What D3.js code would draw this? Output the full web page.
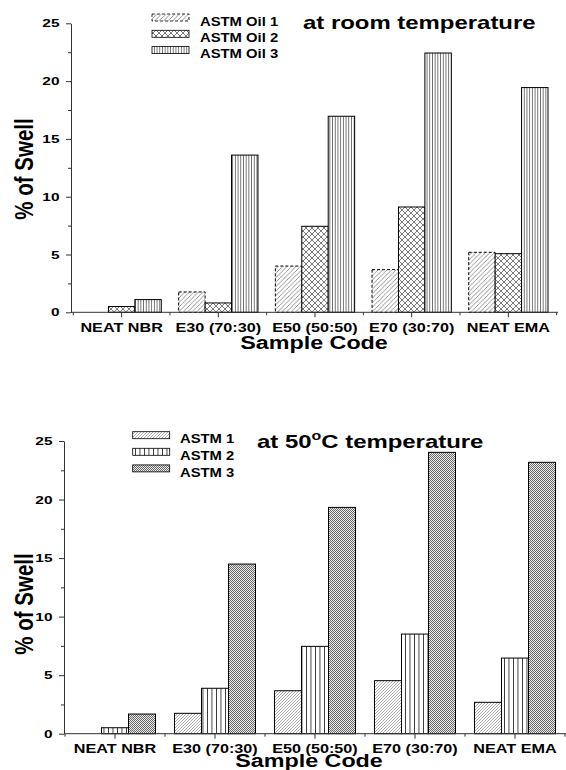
<!DOCTYPE html>
<html><head><meta charset="utf-8">
<script src="https://cdn.jsdelivr.net/npm/d3@7"></script>
<style>body{margin:0;background:#fff} text{font-family:"Liberation Sans",Arial,sans-serif;fill:#000}</style>
</head><body><svg id="c" width="566" height="770"></svg>
<script>
const categories = ["NEAT NBR","E30 (70:30)","E50 (50:50)","E70 (30:70)","NEAT EMA"];
const roomSeries = ["ASTM Oil 1","ASTM Oil 2","ASTM Oil 3"];
const hotSeries = ["ASTM 1","ASTM 2","ASTM 3"];
const roomOil1 = [0, 1.76, 4.0, 3.69, 5.19];
const roomOil2 = [0.5, 0.81, 7.44, 9.11, 5.07];
const roomOil3 = [1.1, 13.6, 16.96, 22.43, 19.44];
const hotAstm1 = [0, 1.74, 3.67, 4.53, 2.68];
const hotAstm2 = [0.51, 3.88, 7.46, 8.51, 6.46];
const hotAstm3 = [1.68, 14.49, 19.33, 24.03, 23.18];
const yTicks = [0, 5, 10, 15, 20, 25];
const yMinorTicks = [2.5, 7.5, 12.5, 17.5, 22.5];

const svg = d3.select("#c");
const defs = svg.append("defs");
function pat(id, w, h, bg, draw){
  const p = defs.append("pattern").attr("id", id).attr("patternUnits","userSpaceOnUse").attr("width", w).attr("height", h);
  p.append("rect").attr("width", w).attr("height", h).attr("fill", bg);
  draw(p);
}
function diag(s, col, sw){ return p => p.append("path").attr("d",`M0,${s} L${s},0 M${-s/2},${s/2} L${s/2},${-s/2} M${s/2},${s*1.5} L${s*1.5},${s/2}`).attr("stroke",col).attr("stroke-width",sw).attr("fill","none"); }
pat("pRoom1", 4.5, 4.5, "#fff", diag(4.5, "#666", 0.7));
pat("pRoom2", 6, 6, "#fff", p => p.append("path").attr("d","M0,0 L6,6 M6,0 L0,6").attr("stroke","#444").attr("stroke-width",0.7).attr("fill","none"));
pat("pRoom3", 2.7, 10, "#fff", p => p.append("rect").attr("x",0).attr("width",0.8).attr("height",10).attr("fill","#555"));
pat("pHot1", 3, 3, "#fff", diag(3, "#777", 0.6));
pat("pHot2", 4.5, 10, "#fff", p => p.append("rect").attr("x",0).attr("width",0.9).attr("height",10).attr("fill","#333"));
pat("pHot3", 2, 2, "#eaeaea", p => { p.append("rect").attr("width",1).attr("height",1).attr("fill","#6a6a6a"); p.append("rect").attr("x",1).attr("y",1).attr("width",1).attr("height",1).attr("fill","#6a6a6a"); });

function drawChart(o){
  const g = svg.append("g");
  const x = d3.scaleBand().domain(categories).range(o.xRange).padding(0);
  const bw = x.bandwidth();
  const inner = d3.scaleBand().domain(o.series).range([bw*o.gpad, bw*(1-o.gpad)]).padding(0);
  const y = d3.scaleLinear().domain([0,25]).range(o.yRange);

  o.series.forEach((s, si) => {
    g.append("g").selectAll("rect")
      .data(o.values[si].map((v,i)=>({c:categories[i], v})).filter(d => d.v > 0))
      .join("rect")
      .attr("x", d => x(d.c) + inner(s)).attr("width", inner.bandwidth())
      .attr("y", d => y(d.v)).attr("height", d => y(0) - y(d.v))
      .attr("fill", `url(#${o.patterns[si]})`).attr("stroke", "#000").attr("stroke-width", 1)
      .attr("stroke-dasharray", o.dash[si]);
  });

  const axCol = "#333";
  const axG = g.append("g");
  axG.append("g").attr("transform", `translate(${o.yAxisX},0)`)
    .call(d3.axisLeft(y).tickValues(yTicks).tickSize(5).tickSizeOuter(0).tickFormat(""));
  const ym = axG.append("g").attr("transform", `translate(${o.yAxisX},0)`)
    .call(d3.axisLeft(y).tickValues(yMinorTicks).tickSize(3).tickSizeOuter(0).tickFormat(""));
  ym.select(".domain").remove();
  const xa = axG.append("g").attr("transform", `translate(0,${y(0)})`)
    .call(d3.axisBottom(x).tickSize(5).tickSizeOuter(0).tickFormat(""));
  xa.select(".domain").remove();
  const xMinor = categories.map(c => x(c)).concat([x.range()[1]]);
  xa.selectAll("line.minor").data(xMinor).join("line").attr("class","minor")
    .attr("x1", d => d).attr("x2", d => d).attr("y1", 0).attr("y2", 3);
  xa.append("line").attr("x1", o.yAxisX).attr("x2", o.xEnd).attr("y1", 0).attr("y2", 0);
  axG.selectAll(".domain, line").attr("stroke", axCol).attr("stroke-width", 1);

  g.append("g").selectAll("text").data(categories).join("text")
    .attr("transform", c => `translate(${x(c)+bw/2},${o.xLabelY}) scale(${o.xLabelScale},1)`)
    .attr("text-anchor","middle").attr("font-size", "12px").attr("font-weight","bold").text(c => c);
  g.append("g").selectAll("text").data(yTicks).join("text")
    .attr("transform", t => `translate(${o.yLabelRight},${y(t)+4}) scale(1.4,1)`)
    .attr("text-anchor","end").attr("font-size","11px").attr("font-weight","bold").text(t => t);

  g.append("text").attr("transform", `translate(${o.xTitle[0]},${o.xTitle[1]}) scale(1.26,1)`)
    .attr("text-anchor","middle").attr("font-size","18.5px").attr("font-weight","bold").text("Sample Code");
  g.append("text").attr("transform", `translate(${o.yTitle[0]},${o.yTitle[1]}) scale(1.25,1) rotate(-90)`)
    .attr("text-anchor","middle").attr("font-size","20.5px").attr("font-weight","bold").text("% of Swell");

  o.series.forEach((s, si) => {
    const ly = o.legend.y0 + si*o.legend.dy;
    g.append("rect").attr("x", o.legend.x).attr("y", ly).attr("width", 37).attr("height", 7)
      .attr("fill", `url(#${o.patterns[si]})`).attr("stroke","#000").attr("stroke-width",0.8).attr("stroke-dasharray", o.dash[si]);
    g.append("text").attr("transform", `translate(${o.legend.tx},${ly + o.legend.tOff}) scale(${o.legend.scale},1)`)
      .attr("font-size","13px").attr("font-weight","bold").text(s);
  });
  return g;
}

const roomChart = drawChart({
  values: [roomOil1, roomOil2, roomOil3], series: roomSeries,
  patterns: ["pRoom1","pRoom2","pRoom3"], dash: ["3,2", null, null],
  xRange: [73.3, 556.7], yRange: [312.3, 23.3], gpad: 0.09,
  yAxisX: 71, xEnd: 558, xLabelY: 331.5, xLabelScale: 1.35, yLabelRight: 59.5,
  xTitle: [314, 349], yTitle: [33, 169],
  legend: {x: 152, y0: 14, dy: 16.3, tx: 200, tOff: 11.5, scale: 1.14}
});
roomChart.append("text").attr("transform","translate(303,29) scale(1.33,1)").attr("font-size","18px").attr("font-weight","bold").text("at room temperature");

const hotChart = drawChart({
  values: [hotAstm1, hotAstm2, hotAstm3], series: hotSeries,
  patterns: ["pHot1","pHot2","pHot3"], dash: [null, null, null],
  xRange: [65, 565], yRange: [733.7, 441], gpad: 0.095,
  yAxisX: 64, xEnd: 566, xLabelY: 752.5, xLabelScale: 1.35, yLabelRight: 52.5,
  xTitle: [309, 766.5], yTitle: [33, 604],
  legend: {x: 132.7, y0: 431.7, dy: 16.6, tx: 180, tOff: 11.6, scale: 1.14}
});
const bt = hotChart.append("text").attr("transform","translate(257,447.5) scale(1.33,1)").attr("font-size","18px").attr("font-weight","bold");
bt.append("tspan").text("at 50");
bt.append("tspan").attr("font-size","12px").attr("dy","-8").text("o");
bt.append("tspan").attr("dy","8").text("C temperature");
</script></body></html>
